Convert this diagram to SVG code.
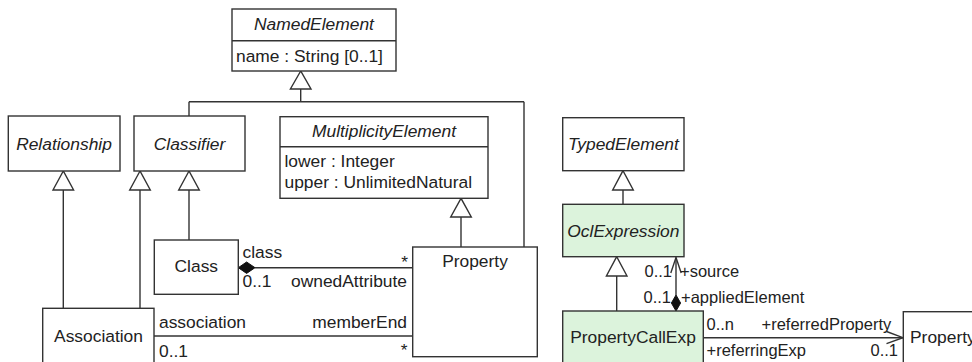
<svg xmlns="http://www.w3.org/2000/svg" width="972" height="362" viewBox="0 0 972 362">
<style>
.box{fill:#fff;stroke:#333;stroke-width:1.4}
.ocl{fill:#dcf3dc;stroke:#333;stroke-width:1.4}
.ln{fill:none;stroke:#333;stroke-width:1.4}
.tri{fill:#fff;stroke:#333;stroke-width:1.4}
.dia{fill:#111;stroke:#111;stroke-width:1}
text{font-family:"Liberation Sans",Arial,sans-serif;font-size:17.4px;fill:#222}
.it{font-style:italic}
.c{text-anchor:middle}
.e{text-anchor:end}
.lbl{font-size:16.5px}
</style>
<rect width="972" height="362" fill="#fff"/>
<g id="connectors">
  <!-- generalizations to NamedElement -->
  <path class="ln" d="M300.7 89 V101.7 M189 101.7 H524 M189 101.7 V116 M524 101.7 V247"/>
  <polygon class="tri" points="300.7,71 290.4,89 311,89"/>
  <!-- Association -> Relationship -->
  <path class="ln" d="M63.3 190 V308"/>
  <polygon class="tri" points="63.3,171 53,190 73.6,190"/>
  <!-- Association -> Classifier -->
  <path class="ln" d="M140 190 V308"/>
  <polygon class="tri" points="140,171 129.7,190 150.3,190"/>
  <!-- Class -> Classifier -->
  <path class="ln" d="M189 190 V240"/>
  <polygon class="tri" points="189,171 178.7,190 199.3,190"/>
  <!-- Property -> MultiplicityElement -->
  <path class="ln" d="M461 217 V247"/>
  <polygon class="tri" points="461,198.3 450.7,217 471.3,217"/>
  <!-- Class ownedAttribute composition -->
  <path class="ln" d="M255 267.7 H413"/>
  <polygon class="dia" points="238.3,267.7 246.6,262 255,267.7 246.6,273.4"/>
  <!-- memberEnd -->
  <path class="ln" d="M154 336 H413"/>
  <!-- OclExpression -> TypedElement -->
  <path class="ln" d="M623 190 V204.3"/>
  <polygon class="tri" points="623,170.7 612.7,190 633.3,190"/>
  <!-- PropertyCallExp -> OclExpression -->
  <path class="ln" d="M616.7 276 V311"/>
  <polygon class="tri" points="616.7,256.7 606.4,276 627,276"/>
  <!-- source / appliedElement -->
  <path class="ln" d="M676 257.5 V295"/>
  <path class="ln" d="M670.8 273 L676 257.5 L681.2 273"/>
  <polygon class="dia" points="676,295 680.6,303 676,311 671.4,303"/>
  <!-- referredProperty -->
  <path class="ln" d="M703.3 337.7 H903"/>
  <path class="ln" d="M886.5 331.5 L903 337.7 L886.5 343.7"/>
</g>
<g id="NamedElement">
  <rect class="box" x="232" y="9" width="164" height="62"/>
  <line class="ln" x1="232" y1="40.7" x2="396" y2="40.7"/>
  <text class="it c" x="314" y="29.5">NamedElement</text>
  <text x="236" y="62">name : String [0..1]</text>
</g>
<g id="Relationship">
  <rect class="box" x="8.3" y="116" width="111.7" height="55"/>
  <text class="it c" x="64" y="149.5">Relationship</text>
</g>
<g id="Classifier">
  <rect class="box" x="134" y="116" width="111" height="55"/>
  <text class="it c" x="189.5" y="149.5">Classifier</text>
</g>
<g id="MultiplicityElement">
  <rect class="box" x="280" y="116.7" width="208" height="81.6"/>
  <line class="ln" x1="280" y1="146.7" x2="488" y2="146.7"/>
  <text class="it c" x="384" y="137">MultiplicityElement</text>
  <text x="284.5" y="166.7">lower : Integer</text>
  <text x="284.5" y="188.3">upper : UnlimitedNatural</text>
</g>
<g id="Class">
  <rect class="box" x="154.3" y="240" width="84" height="54.3"/>
  <text class="c" x="196.3" y="272">Class</text>
</g>
<g id="Property">
  <rect class="box" x="412.7" y="247" width="124.6" height="109.7"/>
  <text class="c" x="475" y="267.3">Property</text>
</g>
<g id="Association">
  <rect class="box" x="42.7" y="308.3" width="111.3" height="70"/>
  <text class="c" x="98.5" y="341.7">Association</text>
</g>
<g id="TypedElement">
  <rect class="box" x="562.7" y="117.7" width="121.3" height="53"/>
  <text class="it c" x="623.4" y="150">TypedElement</text>
</g>
<g id="OclExpression">
  <rect class="ocl" x="562.7" y="204.3" width="121.3" height="52.4"/>
  <text class="it c" x="623.4" y="236.7">OclExpression</text>
</g>
<g id="PropertyCallExp">
  <rect class="ocl" x="562.7" y="311" width="140.6" height="70"/>
  <text class="c" x="633" y="343">PropertyCallExp</text>
</g>
<g id="PropertyRight">
  <rect class="box" x="903.3" y="311.7" width="90" height="70"/>
  <text x="910" y="343">Property</text>
</g>
<g id="labels">
  <text x="242.5" y="258">class</text>
  <text class="e" x="408" y="268">*</text>
  <text x="242.5" y="287">0..1</text>
  <text class="e" x="407" y="287">ownedAttribute</text>
  <text x="159" y="327.7">association</text>
  <text class="e" x="407" y="327.7">memberEnd</text>
  <text x="159" y="357">0..1</text>
  <text class="e" x="407.5" y="356">*</text>
  <text class="lbl e" x="672" y="277">0..1</text>
  <text class="lbl" x="680" y="277">+source</text>
  <text class="lbl e" x="671" y="303">0..1</text>
  <text class="lbl" x="681" y="303">+appliedElement</text>
  <text class="lbl" x="706.5" y="330">0..n</text>
  <text class="lbl" x="761.5" y="330">+referredProperty</text>
  <text class="lbl" x="706.5" y="356">+referringExp</text>
  <text class="lbl e" x="898" y="356">0..1</text>
</g>
</svg>
